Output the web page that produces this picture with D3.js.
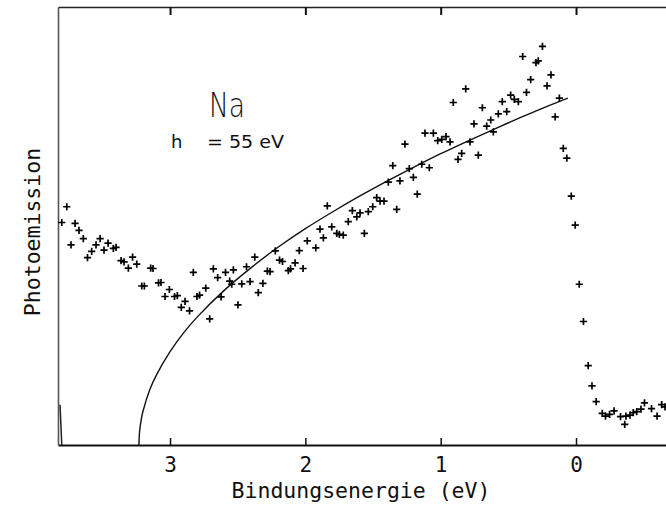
<!DOCTYPE html>
<html><head><meta charset="utf-8">
<script src="https://cdn.jsdelivr.net/npm/d3@7"></script>
<style>
html,body{margin:0;padding:0;background:#fff;}
svg{display:block;}
text{fill:#111;}
</style></head>
<body>
<svg id="chart" width="666" height="509"></svg>
<script>
// ---- data ----
const xTickValues = [3, 2, 1, 0];
const xTickLabels = ["3", "2", "1", "0"];
const title = "Na";
const subtitleLeft = "h";
const subtitleRight = "= 55 eV";
const xLabel = "Bindungsenergie (eV)";
const yLabel = "Photoemission";

// measured points: binding energy (eV) and intensity (arb. units 0..100)
const pointsE = [
 3.763,3.800,3.702,3.673,3.641,3.732,3.517,3.547,3.579,3.610,
 3.458,3.488,3.419,3.399,3.362,3.340,3.308,3.277,3.246,3.143,
 3.126,3.209,3.190,3.085,3.067,3.005,3.037,2.967,2.946,2.889,
 2.917,2.856,2.828,2.680,2.648,2.590,2.532,2.559,2.544,2.736,
 2.782,2.801,2.623,2.707,2.498,2.470,2.409,2.314,2.348,2.374,
 2.435,2.281,2.261,2.222,2.191,2.169,2.126,2.110,2.076,2.017,
 2.045,1.986,1.923,1.892,1.867,1.838,1.805,1.768,1.749,1.720,
 1.683,1.653,1.620,1.596,1.564,1.535,1.502,1.473,1.448,1.419,
 1.325,1.387,1.354,1.301,1.232,1.202,1.173,1.140,1.084,1.264,
 1.116,1.054,1.022,0.992,0.961,0.931,0.872,0.907,0.815,0.845,
 0.783,0.722,0.754,0.692,0.660,0.630,0.611,0.574,0.545,0.512,
 0.483,0.456,0.426,0.394,0.366,0.335,0.296,0.279,0.248,0.185,
 0.214,0.123,0.154,0.094,0.068,0.035,0.006,-0.024,-0.055,-0.090,
 -0.118,-0.149,-0.194,-0.218,-0.248,-0.281,-0.329,-0.360,-0.369,-0.399,
 -0.423,-0.449,-0.480,-0.506,-0.558,-0.599,-0.633,-0.658
];
const pointsI = [
 54.4,50.8,50.6,49.0,47.1,45.7,47.1,45.7,44.2,42.8,
 46.1,44.5,44.9,45.1,42.1,41.8,40.4,42.9,41.3,40.4,
 40.3,36.3,36.3,37.0,37.1,35.5,33.9,33.9,34.1,32.8,
 31.4,30.6,39.4,40.2,38.2,39.4,40.0,37.4,36.7,35.8,
 34.2,33.9,33.8,28.8,32.0,36.8,37.3,36.9,34.8,42.9,
 40.7,39.7,39.6,44.3,42.2,41.9,39.8,40.2,41.6,40.3,
 44.4,46.6,45.0,49.3,47.3,54.6,49.8,48.3,48.1,47.9,
 51.0,53.5,52.1,53.0,48.3,53.3,54.4,56.5,55.7,55.7,
 53.8,60.0,63.8,60.3,63.1,61.1,57.3,64.1,63.3,68.7,
 71.2,71.2,69.5,69.8,70.4,69.2,65.2,78.2,81.3,66.6,
 69.2,66.2,73.3,77.0,72.8,74.2,71.5,75.6,78.4,76.1,
 79.9,78.9,78.4,88.7,80.5,83.4,87.3,87.7,91.0,84.5,
 82.0,79.2,74.9,67.7,65.5,56.8,50.2,36.7,28.2,18.1,
 13.5,9.9,7.2,6.6,7.0,7.8,6.5,4.7,6.6,6.8,
 7.4,7.6,8.2,9.6,8.3,6.6,9.2,8.7
];

// theoretical (free-electron) curve
const curveE = [3.23,3.225,3.21,3.2,3.15,3.1,3.0,2.9,2.8,2.6,2.4,2.2,2.0,1.8,1.6,1.4,1.2,1.0,0.8,0.6,0.4,0.2,0.06];
const curveI = [0,3.1,6.3,7.7,12.6,16.0,21.3,25.6,29.2,35.3,40.5,45.2,49.4,53.2,56.8,60.2,63.4,66.5,69.4,72.2,74.9,77.5,79.2];

// short spike at the left edge near the baseline
const spikeE = [3.813, 3.800];
const spikeI = [9.2, 0];

// ---- drawing ----
const svg = d3.select("#chart");
const x = d3.scaleLinear().domain([3.828, -0.665]).range([58, 666]);
const y = d3.scaleLinear().domain([0, 100]).range([445, 7]);

const mono = "'DejaVu Sans Mono', 'Liberation Mono', monospace";

// bottom axis
const gx = svg.append("g").attr("transform", `translate(0,${y(0)})`)
  .call(d3.axisBottom(x).tickValues(xTickValues)
        .tickFormat((d,i) => xTickLabels[i])
        .tickSize(-7).tickSizeOuter(0).tickPadding(12));
gx.select(".domain").attr("stroke", "#111").attr("stroke-width", 2);
gx.selectAll(".tick line").attr("stroke", "#111").attr("stroke-width", 1.5);
gx.selectAll(".tick text").attr("font-family", mono).attr("font-size", 21).attr("fill", "#111");

// top axis
const gt = svg.append("g").attr("transform", `translate(0,${y(100)})`)
  .call(d3.axisTop(x).tickValues(xTickValues).tickFormat("")
        .tickSize(-8).tickSizeOuter(0));
gt.select(".domain").attr("stroke", "#222").attr("stroke-width", 1.5);
gt.selectAll(".tick line").attr("stroke", "#111").attr("stroke-width", 2);

// left axis
const gl = svg.append("g").attr("transform", `translate(${x.range()[0]},0)`)
  .call(d3.axisLeft(y).tickValues([]).tickSizeOuter(0));
gl.select(".domain").attr("stroke", "#555").attr("stroke-width", 1.6);

// theoretical curve
const line = d3.line().x(d => x(d[0])).y(d => y(d[1])).curve(d3.curveCatmullRom.alpha(0.5));
svg.append("path")
  .datum(curveE.map((e,i) => [e, curveI[i]]))
  .attr("d", line).attr("fill", "none").attr("stroke", "#111").attr("stroke-width", 1.4);

// spike
svg.append("path")
  .datum(spikeE.map((e,i) => [e, spikeI[i]]))
  .attr("d", d3.line().x(d => x(d[0])).y(d => y(d[1])))
  .attr("fill", "none").attr("stroke", "#222").attr("stroke-width", 1.5);

// data crosses
const s = 3.6;
svg.append("g").selectAll("path.pt")
  .data(pointsE.map((e,i) => [e, pointsI[i]]))
  .join("path").attr("class","pt")
  .attr("transform", d => `translate(${x(d[0])},${y(d[1])})`)
  .attr("d", `M${-s},0H${s}M0,${-s}V${s}`)
  .attr("stroke", "#000").attr("stroke-width", 1.7).attr("fill", "none");

// labels
svg.append("text").attr("x", 361).attr("y", 498)
  .attr("text-anchor", "middle").attr("font-family", mono).attr("font-size", 21.5)
  .text(xLabel);

svg.append("text").attr("transform", "translate(40,232) rotate(-90)")
  .attr("text-anchor", "middle").attr("font-family", mono).attr("font-size", 21.5)
  .text(yLabel);

svg.append("text").attr("x", 209).attr("y", 117)
  .attr("font-family", "'DejaVu Sans', sans-serif").attr("font-weight", 200)
  .attr("font-size", 33).attr("textLength", 36).attr("lengthAdjust", "spacingAndGlyphs")
  .text(title);

svg.append("text").attr("x", 171).attr("y", 148)
  .attr("font-family", "'DejaVu Sans', sans-serif").attr("font-size", 18)
  .text(subtitleLeft);
svg.append("text").attr("x", 207).attr("y", 148)
  .attr("font-family", "'DejaVu Sans', sans-serif").attr("font-size", 18)
  .attr("textLength", 77).attr("lengthAdjust", "spacingAndGlyphs")
  .text(subtitleRight);
</script>
</body></html>
